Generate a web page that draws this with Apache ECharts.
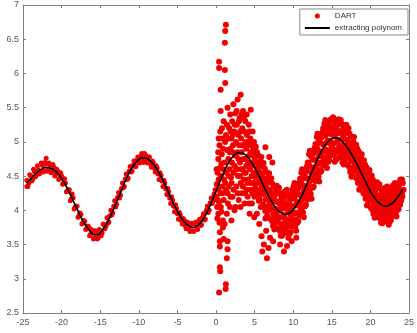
<!DOCTYPE html>
<html><head><meta charset="utf-8">
<script src="https://cdn.jsdelivr.net/npm/echarts@6/dist/echarts.min.js"></script>
<style>html,body{margin:0;padding:0;background:#fff}#c{width:417px;height:333px}</style>
</head><body><div id="c"></div>
<script>
// Polynomial curve (x, y)
const curveX = [-24.5,-24,-23.5,-23,-22.5,-22,-21.5,-21,-20.5,-20,-19.5,-19,-18.5,-18,-17.5,-17,-16.5,-16,-15.5,-15,-14.5,-14,-13.5,-13,-12.5,-12,-11.5,-11,-10.5,-10,-9.5,-9,-8.5,-8,-7.5,-7,-6.5,-6,-5.5,-5,-4.5,-4,-3.5,-3,-2.5,-2,-1.5,-1,-0.5,0,0.5,1,1.5,2,2.5,3,3.5,4,4.5,5,5.5,6,6.5,7,7.5,8,8.5,9,9.5,10,10.5,11,11.5,12,12.5,13,13.5,14,14.5,15,15.5,16,16.5,17,17.5,18,18.5,19,19.5,20,20.5,21,21.5,22,22.5,23,23.5,24,24.2];
const curveY = [4.40,4.46,4.52,4.57,4.61,4.63,4.62,4.59,4.54,4.46,4.37,4.26,4.14,4.02,3.90,3.80,3.72,3.66,3.64,3.67,3.75,3.84,3.96,4.09,4.22,4.36,4.49,4.60,4.68,4.74,4.77,4.76,4.72,4.66,4.57,4.47,4.35,4.22,4.10,3.99,3.89,3.82,3.77,3.75,3.77,3.82,3.90,4.01,4.14,4.28,4.42,4.55,4.67,4.76,4.82,4.84,4.83,4.79,4.72,4.63,4.52,4.40,4.28,4.17,4.08,4.00,3.96,3.94,3.96,4.01,4.09,4.19,4.31,4.45,4.58,4.71,4.83,4.93,5.00,5.05,5.06,5.04,4.99,4.92,4.83,4.73,4.62,4.50,4.39,4.28,4.19,4.12,4.08,4.06,4.08,4.12,4.19,4.27,4.31];

// DART samples, x < 0 (tight band)
const dartLeft = [[-24.5,4.44],[-24.5,4.35],[-24.25,4.40],[-24,4.50],[-23.75,4.45],[-23.5,4.56],[-23.25,4.52],[-23,4.59],[-22.75,4.56],[-22.5,4.66],[-22.25,4.58],[-22,4.68],[-22,4.76],[-21.75,4.60],[-21.5,4.66],[-21.25,4.57],[-21,4.63],[-20.75,4.53],[-20.5,4.57],[-20.25,4.47],[-20,4.50],[-19.75,4.40],[-19.5,4.40],[-19.25,4.28],[-19,4.30],[-18.75,4.17],[-18.5,4.18],[-18.25,4.05],[-18,4.06],[-17.75,3.92],[-17.5,3.94],[-17.25,3.82],[-17,3.84],[-16.75,3.73],[-16.5,3.76],[-16.25,3.65],[-16,3.70],[-15.75,3.60],[-15.5,3.68],[-15.25,3.60],[-15,3.70],[-14.75,3.67],[-14.5,3.79],[-14.25,3.77],[-14,3.81],[-13.75,3.92],[-13.5,3.93],[-13.25,4.06],[-13,4.05],[-12.75,4.19],[-12.5,4.18],[-12.25,4.32],[-12,4.33],[-11.75,4.46],[-11.5,4.45],[-11.25,4.57],[-11,4.56],[-10.75,4.66],[-10.5,4.64],[-10.25,4.73],[-10,4.70],[-9.75,4.79],[-9.5,4.74],[-9.25,4.83],[-9,4.73],[-8.75,4.78],[-8.5,4.68],[-8.25,4.72],[-8,4.62],[-7.75,4.65],[-7.5,4.53],[-7.25,4.55],[-7,4.43],[-6.75,4.44],[-6.5,4.31],[-6.25,4.32],[-6,4.18],[-5.75,4.20],[-5.5,4.06],[-5.25,4.08],[-5,3.95],[-4.75,3.97],[-4.5,3.85],[-4.25,3.88],[-4,3.78],[-3.75,3.83],[-3.5,3.73],[-3.25,3.79],[-3,3.70],[-2.75,3.80],[-2.5,3.73],[-2.25,3.83],[-2,3.78],[-1.75,3.90],[-1.5,3.86],[-1.25,4.00],[-1,3.97],[-0.75,4.11],[-0.5,4.10],[-0.25,4.24],
[-24.375,4.35],[-24.125,4.52],[-23.875,4.43],[-23.625,4.60],[-23.375,4.49],[-23.125,4.65],[-22.875,4.53],[-22.625,4.69],[-22.375,4.56],[-22.125,4.70],[-21.875,4.57],[-21.625,4.69],[-21.375,4.55],[-21.125,4.67],[-20.875,4.50],[-20.625,4.60],[-20.375,4.45],[-20.125,4.55],[-19.875,4.38],[-19.625,4.46],[-19.375,4.27],[-19.125,4.30],[-18.875,4.14],[-18.625,4.24],[-18.375,4.02],[-18.125,4.06],[-17.875,3.90],[-17.625,3.96],[-17.375,3.80],[-17.125,3.85],[-16.875,3.72],[-16.625,3.77],[-16.375,3.63],[-16.125,3.72],[-15.875,3.58],[-15.625,3.70],[-15.375,3.58],[-15.125,3.72],[-14.875,3.63],[-14.625,3.80],[-14.375,3.73],[-14.125,3.89],[-13.875,3.83],[-13.625,4.00],[-13.375,3.96],[-13.125,4.14],[-12.875,4.09],[-12.625,4.26],[-12.375,4.22],[-12.125,4.40],[-11.875,4.35],[-11.625,4.53],[-11.375,4.47],[-11.125,4.64],[-10.875,4.57],[-10.625,4.72],[-10.375,4.64],[-10.125,4.78],[-9.875,4.69],[-9.625,4.83],[-9.375,4.70],[-9.125,4.81],[-8.875,4.69],[-8.625,4.78],[-8.375,4.63],[-8.125,4.70],[-7.875,4.56],[-7.625,4.62],[-7.375,4.45],[-7.125,4.51],[-6.875,4.35],[-6.625,4.40],[-6.375,4.23],[-6.125,4.27],[-5.875,4.10],[-5.625,4.15],[-5.375,3.98],[-5.125,4.03],[-4.875,3.87],[-4.625,3.93],[-4.375,3.80],[-4.125,3.86],[-3.875,3.73],[-3.625,3.82],[-3.375,3.69],[-3.125,3.81],[-2.875,3.69],[-2.625,3.83],[-2.375,3.72],[-2.125,3.87],[-1.875,3.79],[-1.625,3.95],[-1.375,3.87],[-1.125,4.06],[-0.875,4.00],[-0.625,4.18],[-0.375,4.14],[-0.125,4.30]];

// DART samples, 0 <= x <= 5 (wide scatter with outliers)
const dartMid = [[0.05,4.20],[0.1,4.38],[0.15,4.05],[0.2,4.55],[0.25,4.30],[0.3,3.95],[0.3,4.75],[0.35,4.45],[0.4,4.12],[0.4,6.17],[0.4,6.08],[0.45,3.82],[0.45,4.95],[0.5,3.68],[0.5,3.55],[0.5,3.47],[0.5,3.17],[0.55,3.11],[0.4,2.80],[0.5,4.62],[0.55,5.15],[0.6,5.76],[0.6,5.45],[0.6,4.25],
[0.65,4.50],[0.7,3.98],[0.75,4.82],[0.8,4.35],[0.85,5.05],[0.9,3.85],[0.9,3.75],[0.95,4.60],[1.0,5.30],[1.0,4.15],[1.0,3.58],
[1.28,6.71],[1.2,6.62],[1.15,6.45],[1.15,6.05],[1.2,5.86],[1.28,2.92],[1.25,2.85],[1.4,3.30],[1.5,3.43],[1.5,3.55],[1.1,4.70],[1.2,4.40],[1.3,5.10],[1.35,4.55],[1.4,3.95],[1.45,4.88],[1.5,4.25],[1.5,5.50],
[1.6,4.75],[1.65,4.35],[1.7,5.20],[1.75,4.60],[1.8,4.05],[1.85,5.40],[1.9,4.90],[1.95,4.48],[2.0,5.05],[2.0,3.85],
[2.05,4.70],[2.1,5.30],[2.15,4.20],[2.2,4.95],[2.25,5.55],[2.3,4.55],[2.35,5.15],[2.4,4.00],[2.45,4.80],[2.5,5.42],
[2.55,4.62],[2.6,5.00],[2.65,4.35],[2.7,5.25],[2.8,5.62],[2.8,4.85],[2.85,4.50],[2.9,5.10],[2.95,4.15],[3.0,4.95],
[3.05,5.35],[3.1,4.70],[3.2,5.69],[3.2,4.40],[3.25,5.05],[3.3,4.85],[3.35,4.25],[3.4,5.20],[3.45,4.60],[3.5,5.45],
[3.55,4.95],[3.6,4.45],[3.65,5.15],[3.7,4.10],[3.75,4.75],[3.8,5.30],[3.85,4.55],[3.9,4.90],[3.95,4.30],[4.0,5.10],
[4.05,4.65],[4.1,4.20],[4.15,5.00],[4.2,4.45],[4.25,5.25],[4.3,4.80],[4.35,3.95],[4.4,4.60],[4.45,5.05],[4.5,5.47],
[4.55,4.40],[4.6,4.85],[4.65,4.10],[4.7,4.65],[4.75,5.15],[4.8,4.30],[4.85,4.90],[4.9,4.55],[4.95,3.90],[5.0,4.75],
[0.08,4.60],[0.18,3.88],[0.28,4.85],[0.22,4.15],[0.35,5.05],[0.62,4.05],[0.7,4.68],[0.78,5.20],[0.85,4.25],[0.92,4.90],[1.05,4.45],[1.12,3.80],[1.18,5.00],[1.32,4.30],[1.42,5.25],[1.55,4.10],[1.62,5.05],[1.68,4.50],[1.78,4.85],[1.88,4.20],[1.92,5.15],[2.02,4.40],[2.12,4.85],[2.18,5.10],[2.28,4.30],[2.38,4.65],[2.42,5.25],[2.52,4.05],[2.58,4.80],[2.68,5.45],[2.72,4.60],[2.82,4.25],[2.92,4.75],[2.98,5.30],[3.08,4.50],[3.12,5.15],[3.18,4.05],[3.28,4.60],[3.32,5.40],[3.42,4.95],[3.48,4.35],[3.58,4.75],[3.62,5.35],[3.68,4.55],[3.78,4.25],[3.82,5.00],[3.92,4.65],[3.98,5.40],[4.08,4.40],[4.12,4.95],[4.18,4.70],[4.28,4.10],[4.32,5.15],[4.42,4.30],[4.48,4.85],[4.58,4.95],[4.62,4.50],[4.72,4.25],[4.78,4.80],[4.88,4.40],[4.92,5.00],[4.98,4.20]];

// DART samples, x > 5
const dartRight = [[5.05,4.88],[5.12,4.48],[5.2,4.70],[5.27,4.30],[5.35,4.60],[5.42,4.40],[5.48,4.80],
[5.3,3.95],[5.6,3.80],[5.9,3.62],[6.2,3.50],[6.5,3.70],[6.8,3.45],[7.0,3.60],[5.8,4.05],[6.4,3.88],
[5.55,4.14],[5.62,4.64],[5.7,4.41],[5.77,4.72],[5.85,4.24],[5.92,4.54],[5.98,4.32],
[6.05,4.64],[6.12,4.24],[6.2,4.46],[6.27,4.06],[6.35,4.36],[6.42,4.16],[6.48,4.56],
[6.55,3.90],[6.62,4.40],[6.7,4.17],[6.77,4.48],[6.85,4.00],[6.92,4.30],[6.98,4.08],
[6.4,4.92],[6.9,4.78],[7.3,4.70],
[7.05,4.42],[7.12,4.02],[7.2,4.24],[7.27,3.84],[7.35,4.14],[7.42,3.94],[7.48,4.34],
[7.55,3.72],[7.62,4.22],[7.7,3.99],[7.77,4.30],[7.85,3.82],[7.92,4.12],[7.98,3.90],
[8.05,4.28],[8.12,3.88],[8.2,4.10],[8.27,3.70],[8.35,4.00],[8.42,3.80],[8.48,4.20],
[8.55,3.63],[8.62,4.13],[8.7,3.90],[8.77,4.21],[8.85,3.73],[8.92,4.03],[8.98,3.81],
[6.0,3.40],[6.6,3.30],[7.4,3.55],[8.3,3.50],[9.2,3.48],[9.8,3.55],[10.4,3.60],[8.8,3.40],
[9.05,4.25],[9.12,3.85],[9.2,4.07],[9.27,3.67],[9.35,3.97],[9.42,3.77],[9.48,4.17],
[9.55,3.66],[9.62,4.16],[9.7,3.93],[9.77,4.24],[9.85,3.76],[9.92,4.06],[9.98,3.84],
[10.05,4.35],[10.12,3.95],[10.2,4.17],[10.27,3.77],[10.35,4.07],[10.42,3.87],[10.48,4.27],
[10.55,3.82],[10.62,4.32],[10.7,4.09],[10.77,4.40],[10.85,3.92],[10.92,4.22],[10.98,4.00],
[11.05,4.55],[11.12,4.15],[11.2,4.37],[11.27,3.97],[11.35,4.27],[11.42,4.07],[11.48,4.47],
[11.55,4.06],[11.62,4.56],[11.7,4.33],[11.77,4.64],[11.85,4.16],[11.92,4.46],[11.98,4.24],
[12.05,4.82],[12.12,4.42],[12.2,4.64],[12.27,4.24],[12.35,4.54],[12.42,4.34],[12.48,4.74],
[12.55,4.33],[12.62,4.83],[12.7,4.60],[12.77,4.91],[12.85,4.43],[12.92,4.73],[12.98,4.51],
[13.05,5.07],[13.12,4.67],[13.2,4.89],[13.27,4.49],[13.35,4.79],[13.42,4.59],[13.48,4.99],
[13.55,4.56],[13.62,5.06],[13.7,4.83],[13.77,5.14],[13.85,4.66],[13.92,4.96],[13.98,4.74],
[14.05,5.27],[14.12,4.87],[14.2,5.09],[14.27,4.69],[14.35,4.99],[14.42,4.79],[14.48,5.19],
[14.55,4.71],[14.62,5.21],[14.7,4.98],[14.77,5.29],[14.85,4.81],[14.92,5.11],[14.98,4.89],
[15.05,5.32],[15.12,4.96],[15.2,5.18],[15.27,4.80],[15.35,5.08],[15.42,4.88],[15.48,5.26],
[15.55,4.75],[15.62,5.23],[15.7,5.00],[15.77,5.30],[15.85,4.85],[15.92,5.13],[15.98,4.93],
[16.05,5.29],[16.12,4.93],[16.2,5.13],[16.27,4.77],[16.35,5.04],[16.42,4.86],[16.48,5.22],
[16.55,4.67],[16.62,5.12],[16.7,4.91],[16.77,5.19],[16.85,4.76],[16.92,5.03],[16.98,4.83],
[17.05,5.15],[17.12,4.79],[17.2,4.99],[17.27,4.63],[17.35,4.90],[17.42,4.72],[17.48,5.08],
[17.55,4.49],[17.62,4.94],[17.7,4.73],[17.77,5.01],[17.85,4.58],[17.92,4.85],[17.98,4.65],
[18.05,4.92],[18.12,4.60],[18.2,4.78],[18.27,4.46],[18.35,4.70],[18.42,4.54],[18.48,4.86],
[18.55,4.30],[18.62,4.70],[18.7,4.52],[18.77,4.77],[18.85,4.38],[18.92,4.62],[18.98,4.45],
[19.05,4.69],[19.12,4.37],[19.2,4.55],[19.27,4.23],[19.35,4.47],[19.42,4.31],[19.48,4.63],
[19.55,4.07],[19.62,4.47],[19.7,4.29],[19.77,4.54],[19.85,4.15],[19.92,4.39],[19.98,4.22],
[20.05,4.47],[20.12,4.15],[20.2,4.33],[20.27,4.01],[20.35,4.25],[20.42,4.09],[20.48,4.41],
[20.55,3.89],[20.62,4.29],[20.7,4.11],[20.77,4.36],[20.85,3.97],[20.92,4.21],[20.98,4.04],
[21.05,4.34],[21.12,4.02],[21.2,4.20],[21.27,3.88],[21.35,4.12],[21.42,3.96],[21.48,4.28],
[21.55,3.81],[21.62,4.21],[21.7,4.03],[21.77,4.28],[21.85,3.89],[21.92,4.13],[21.98,3.96],
[22.05,4.31],[22.12,3.99],[22.2,4.17],[22.27,3.85],[22.35,4.09],[22.42,3.93],[22.48,4.25],
[22.55,3.84],[22.62,4.24],[22.7,4.06],[22.77,4.31],[22.85,3.92],[22.92,4.16],[22.98,3.99],
[23.05,4.36],[23.12,4.08],[23.2,4.23],[23.27,3.95],[23.35,4.16],[23.42,4.02],[23.48,4.30],
[23.55,4.01],[23.62,4.36],[23.7,4.20],[23.77,4.41],[23.85,4.08],[23.92,4.29],[23.98,4.14],
[24.1,4.45],[24.1,4.25],[24.2,4.40],[24.3,4.30],[24.15,4.20]];

// DART samples, x > 5 (second pass, filling the band)
const dartRight2 = [[5.02,4.73],[5.09,4.33],[5.16,4.93],[5.23,4.50],[5.31,4.85],[5.38,4.23],[5.45,4.63],
[5.52,4.28],[5.59,4.56],[5.66,4.16],[5.73,4.66],[5.81,4.44],[5.88,4.78],[5.95,4.34],
[6.02,4.49],[6.09,4.09],[6.16,4.69],[6.23,4.26],[6.31,4.61],[6.38,3.99],[6.45,4.39],
[6.52,4.04],[6.59,4.32],[6.66,3.92],[6.73,4.42],[6.81,4.20],[6.88,4.54],[6.95,4.10],
[7.02,4.27],[7.09,3.87],[7.16,4.47],[7.23,4.04],[7.31,4.39],[7.38,3.77],[7.45,4.17],
[7.52,3.86],[7.59,4.14],[7.66,3.74],[7.73,4.24],[7.81,4.02],[7.88,4.36],[7.95,3.92],
[8.02,4.13],[8.09,3.73],[8.16,4.33],[8.23,3.90],[8.31,4.25],[8.38,3.63],[8.45,4.03],
[8.52,3.77],[8.59,4.05],[8.66,3.65],[8.73,4.15],[8.81,3.93],[8.88,4.27],[8.95,3.83],
[9.02,4.10],[9.09,3.70],[9.16,4.30],[9.23,3.87],[9.31,4.22],[9.38,3.60],[9.45,4.00],
[9.52,3.80],[9.59,4.08],[9.66,3.68],[9.73,4.18],[9.81,3.96],[9.88,4.30],[9.95,3.86],
[10.02,4.20],[10.09,3.80],[10.16,4.40],[10.23,3.97],[10.31,4.32],[10.38,3.70],[10.45,4.10],
[10.52,3.96],[10.59,4.24],[10.66,3.84],[10.73,4.34],[10.81,4.12],[10.88,4.46],[10.95,4.02],
[11.02,4.40],[11.09,4.00],[11.16,4.60],[11.23,4.17],[11.31,4.52],[11.38,3.90],[11.45,4.30],
[11.52,4.20],[11.59,4.48],[11.66,4.08],[11.73,4.58],[11.81,4.36],[11.88,4.70],[11.95,4.26],
[12.02,4.67],[12.09,4.27],[12.16,4.87],[12.23,4.44],[12.31,4.79],[12.38,4.17],[12.45,4.57],
[12.52,4.47],[12.59,4.75],[12.66,4.35],[12.73,4.85],[12.81,4.63],[12.88,4.97],[12.95,4.53],
[13.02,4.92],[13.09,4.52],[13.16,5.12],[13.23,4.69],[13.31,5.04],[13.38,4.42],[13.45,4.82],
[13.52,4.70],[13.59,4.98],[13.66,4.58],[13.73,5.08],[13.81,4.86],[13.88,5.20],[13.95,4.76],
[14.02,5.12],[14.09,4.72],[14.16,5.32],[14.23,4.89],[14.31,5.24],[14.38,4.62],[14.45,5.02],
[14.52,4.85],[14.59,5.13],[14.66,4.73],[14.73,5.23],[14.81,5.01],[14.88,5.33],[14.95,4.91],
[15.02,5.21],[15.09,4.81],[15.16,5.36],[15.23,4.98],[15.31,5.30],[15.38,4.71],[15.45,5.11],
[15.52,4.87],[15.59,5.15],[15.66,4.75],[15.73,5.25],[15.81,5.03],[15.88,5.33],[15.95,4.93],
[16.02,5.16],[16.09,4.80],[16.16,5.32],[16.23,4.95],[16.31,5.26],[16.38,4.70],[16.45,5.06],
[16.52,4.80],[16.59,5.05],[16.66,4.69],[16.73,5.14],[16.81,4.94],[16.88,5.25],[16.95,4.85],
[17.02,5.02],[17.09,4.66],[17.16,5.20],[17.23,4.81],[17.31,5.12],[17.38,4.56],[17.45,4.92],
[17.52,4.62],[17.59,4.87],[17.66,4.51],[17.73,4.96],[17.81,4.76],[17.88,5.07],[17.95,4.67],
[18.02,4.80],[18.09,4.48],[18.16,4.96],[18.23,4.62],[18.31,4.90],[18.38,4.40],[18.45,4.72],
[18.52,4.42],[18.59,4.64],[18.66,4.32],[18.73,4.72],[18.81,4.54],[18.88,4.82],[18.95,4.46],
[19.02,4.57],[19.09,4.25],[19.16,4.73],[19.23,4.39],[19.31,4.67],[19.38,4.17],[19.45,4.49],
[19.52,4.19],[19.59,4.41],[19.66,4.09],[19.73,4.49],[19.81,4.31],[19.88,4.59],[19.95,4.23],
[20.02,4.35],[20.09,4.03],[20.16,4.51],[20.23,4.17],[20.31,4.45],[20.38,3.95],[20.45,4.27],
[20.52,4.01],[20.59,4.23],[20.66,3.91],[20.73,4.31],[20.81,4.13],[20.88,4.41],[20.95,4.05],
[21.02,4.22],[21.09,3.90],[21.16,4.38],[21.23,4.04],[21.31,4.32],[21.38,3.82],[21.45,4.14],
[21.52,3.93],[21.59,4.15],[21.66,3.83],[21.73,4.23],[21.81,4.05],[21.88,4.33],[21.95,3.97],
[22.02,4.19],[22.09,3.87],[22.16,4.35],[22.23,4.01],[22.31,4.29],[22.38,3.79],[22.45,4.11],
[22.52,3.96],[22.59,4.18],[22.66,3.86],[22.73,4.26],[22.81,4.08],[22.88,4.36],[22.95,4.00],
[23.02,4.26],[23.09,3.98],[23.16,4.40],[23.23,4.09],[23.31,4.34],[23.38,3.91],[23.45,4.19],
[23.52,4.10],[23.59,4.30],[23.66,4.02],[23.73,4.37],[23.81,4.22],[23.88,4.45],[23.95,4.15]];

const xTicks = {min: -25, max: 25, interval: 5};
const yTicks = {min: 2.5, max: 7, interval: 0.5};

const curve = curveX.map((x, i) => [x, curveY[i]]);
const dart = dartLeft.concat(dartMid, dartRight, dartRight2);

const chart = echarts.init(document.getElementById('c'), null, {renderer: 'canvas'});
const axisCommon = {
  axisLine: {show: true, onZero: false, lineStyle: {color: '#808080', width: 1}},
  axisTick: {show: true, inside: true, length: 3, lineStyle: {color: '#808080'}},
  splitLine: {show: false}
};
const lbl = {color: '#555', fontSize: 9, fontFamily: 'Liberation Sans, Arial, sans-serif'};
chart.setOption({
  animation: false,
  backgroundColor: '#fff',
  grid: {left: 23, right: 4, top: 5, bottom: 20, containLabel: false},
  xAxis: [
    Object.assign({type: 'value', position: 'bottom'}, xTicks, axisCommon, {axisLabel: Object.assign({margin: 5}, lbl)}),
    Object.assign({type: 'value', position: 'top'}, xTicks, axisCommon, {axisLabel: {show: false}})
  ],
  yAxis: [
    Object.assign({type: 'value', position: 'left'}, yTicks, axisCommon, {axisLabel: Object.assign({margin: 4}, lbl)}),
    Object.assign({type: 'value', position: 'right'}, yTicks, axisCommon, {axisLabel: {show: false}})
  ],
  legend: {
    orient: 'vertical', right: 9, top: 9,
    itemWidth: 25, itemHeight: 5, itemGap: 4,
    padding: [3, 6, 3, 5],
    borderColor: '#888', borderWidth: 1, backgroundColor: '#fff',
    textStyle: {fontSize: 8, color: '#333', fontFamily: 'Liberation Sans, Arial, sans-serif'},
    data: [
      {name: 'DART', icon: 'circle'},
      {name: 'extracting polynom', icon: 'path://M0,0L25,0L25,2L0,2Z'}
    ]
  },
  series: [
    {name: 'DART', type: 'scatter', data: dart, symbol: 'circle',
     symbolSize: function (v) { return v[0] >= 0 ? 6 : 5; },
     itemStyle: {color: '#f00000', opacity: 1}, z: 2},
    {name: 'extracting polynom', type: 'line', data: curve, smooth: true, showSymbol: false, symbol: 'none',
     lineStyle: {color: '#000', width: 1.6}, itemStyle: {color: '#000'}, z: 3}
  ]
});
</script></body></html>
